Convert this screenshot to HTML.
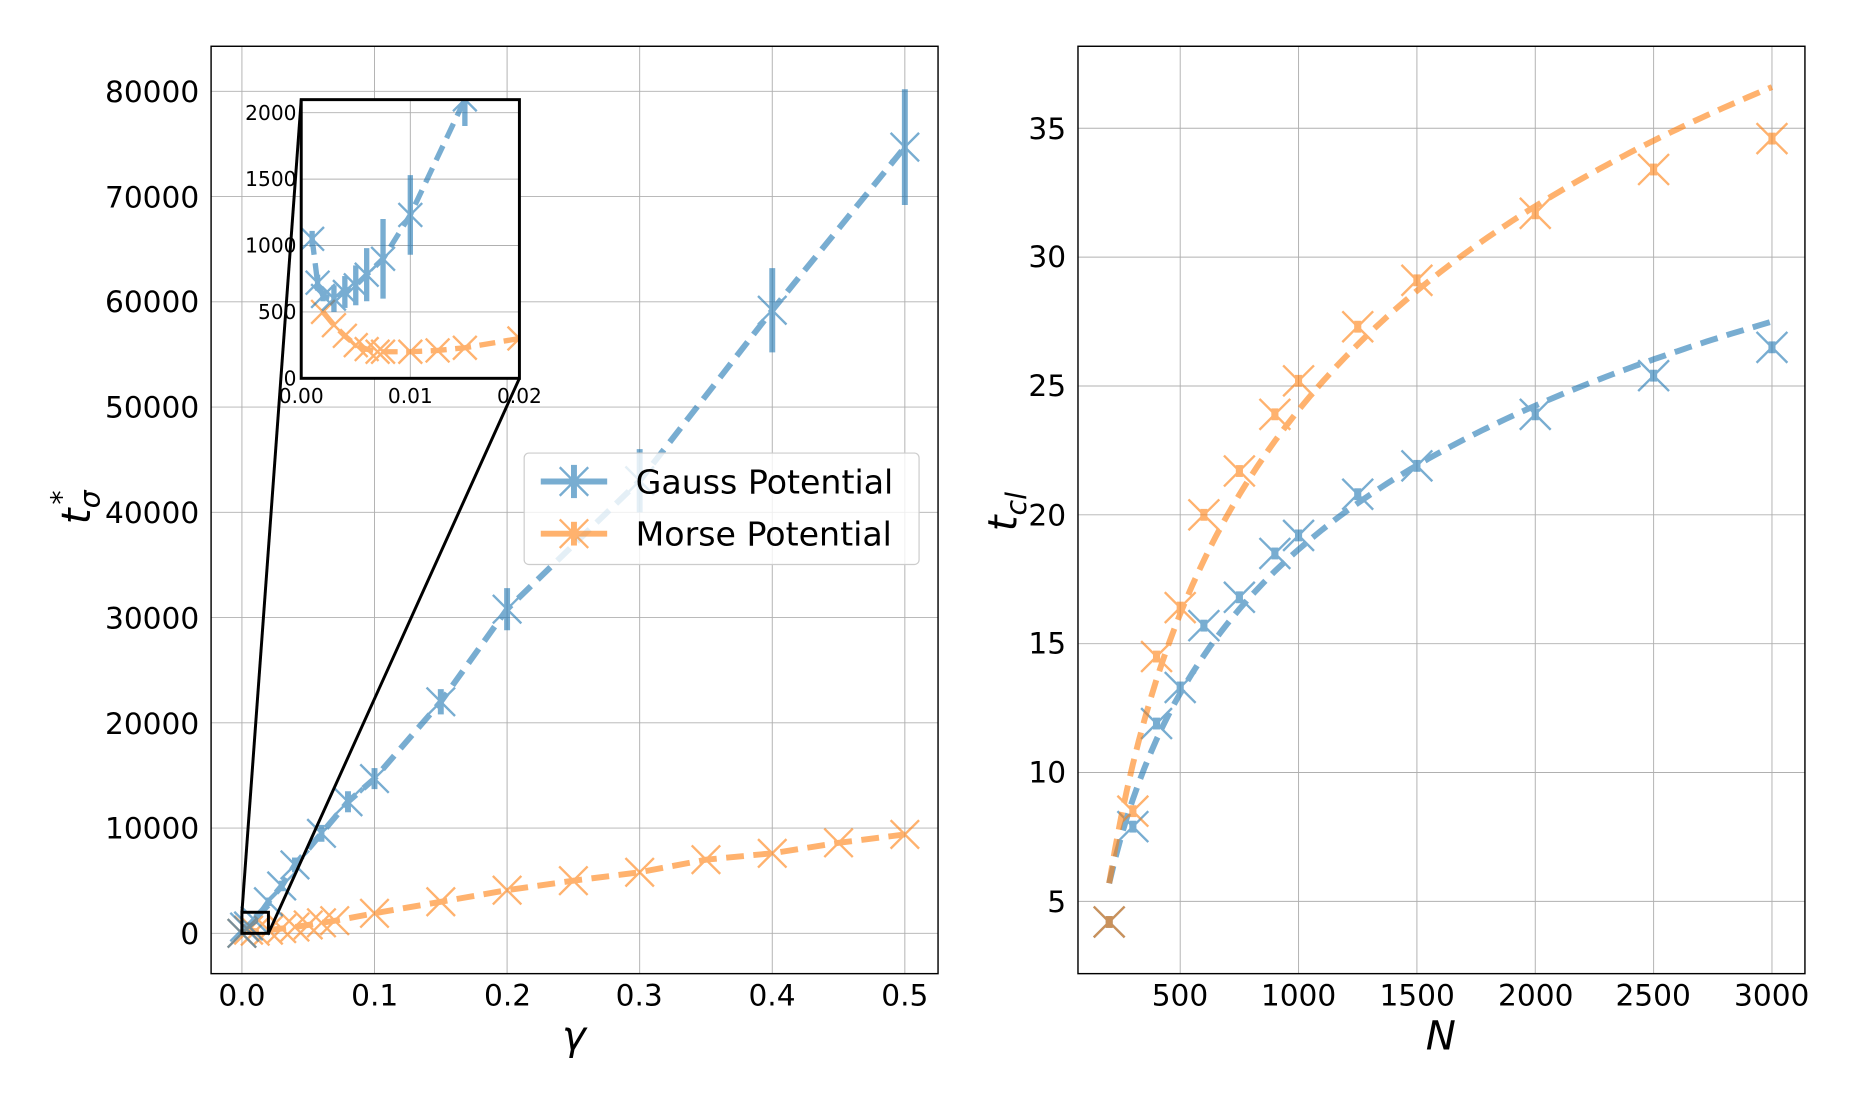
<!DOCTYPE html>
<html><head><meta charset="utf-8"><style>
html,body{margin:0;padding:0;background:#fff;}
svg{display:block;font-family:"DejaVu Sans","Liberation Sans",sans-serif;}
</style></head><body>
<svg id="s" width="1850" height="1097" viewBox="0 0 1560 925" xmlns="http://www.w3.org/2000/svg">
<rect width="1560" height="925" fill="#fff"/>
<g id="grid" stroke="#b0b0b0" stroke-width="0.8"></g>
<g id="data"></g>
<g id="frames" fill="none" stroke="#000" stroke-width="1.2">
<rect x="178" y="39" width="613" height="782"/>
<rect x="909" y="39" width="613" height="782"/>
</g>
<g font-size="25" fill="#000">
<g text-anchor="end">
<text x="168" y="796">0</text><text x="168" y="707">10000</text><text x="168" y="619">20000</text>
<text x="168" y="530">30000</text><text x="168" y="441">40000</text><text x="168" y="352">50000</text>
<text x="168" y="263">60000</text><text x="168" y="175">70000</text><text x="168" y="86">80000</text>
<text x="899" y="769">5</text><text x="899" y="660">10</text><text x="899" y="551">15</text>
<text x="899" y="443">20</text><text x="899" y="334">25</text><text x="899" y="225">30</text><text x="899" y="117">35</text>
</g>
<g text-anchor="middle">
<text x="204" y="848">0.0</text><text x="316" y="848">0.1</text><text x="428" y="848">0.2</text>
<text x="539" y="848">0.3</text><text x="651" y="848">0.4</text><text x="763" y="848">0.5</text>
<text x="995" y="848">500</text><text x="1095" y="848">1000</text><text x="1195" y="848">1500</text>
<text x="1295" y="848">2000</text><text x="1394" y="848">2500</text><text x="1494" y="848">3000</text>
</g>
<text x="484" y="885" font-size="34" font-style="italic" text-anchor="middle">γ</text>
<text x="1215" y="885" font-size="34" font-style="italic" text-anchor="middle">N</text>
<text transform="translate(76,442) rotate(-90)" font-size="34" font-style="italic">t<tspan font-size="24" dy="8">σ</tspan><tspan font-size="24" dy="-24" dx="-12">*</tspan></text>
<text transform="translate(857,448) rotate(-90)" font-size="34" font-style="italic">t<tspan font-size="24" dy="8">cl</tspan></text>
</g>
<g id="inset"></g>
<g id="legend">
<rect x="442" y="382" width="333" height="94" rx="4" fill="#fff" fill-opacity="0.8" stroke="#ccc"/>
<text x="536" y="416" font-size="28">Gauss Potential</text>
<text x="536" y="460" font-size="28">Morse Potential</text>
</g>
</svg>
<script>
var NS="http://www.w3.org/2000/svg";
function el(p,t,a){var e=document.createElementNS(NS,t);for(var k in a)e.setAttribute(k,a[k]);p.appendChild(e);return e;}
var grid=document.getElementById('grid'),data=document.getElementById('data');
var B='#1f77b4',O='#ff7f0e';
function lx(g){return 204+g*1118;} function ly(v){return 787-v*0.008875;}
[0,.1,.2,.3,.4,.5].forEach(function(g){el(grid,'line',{x1:lx(g),x2:lx(g),y1:39,y2:821});});
for(var v=0;v<=80000;v+=10000)el(grid,'line',{x1:178,x2:791,y1:ly(v),y2:ly(v)});
function rx(n){return 895.4+n*0.1996;} function ry(t){return 868.7-t*21.73;}
[500,1000,1500,2000,2500,3000].forEach(function(n){el(grid,'line',{x1:rx(n),x2:rx(n),y1:39,y2:821});});
for(var t=5;t<=35;t+=5)el(grid,'line',{x1:909,x2:1522,y1:ry(t),y2:ry(t)});
function series(g,pts,fx,fy,c,lw,ms,fitpts,sq){
  var d=(fitpts||pts).map(function(p,i){return (i?'L':'M')+fx(p[0]).toFixed(1)+' '+fy(p[1]).toFixed(1);}).join(' ');
  var grp=el(g,'g',{opacity:0.6});
  el(grp,'path',{d:d,fill:'none',stroke:c,'stroke-width':lw,'stroke-dasharray':(lw*3)+' '+(lw*1.6)});
  pts.forEach(function(p){var x=fx(p[0]),y=fy(p[1]);
    if(p[2]){el(grp,'line',{x1:x,x2:x,y1:fy(p[1]-p[2]),y2:fy(p[1]+p[2]),stroke:c,'stroke-width':lw});}
    if(sq){el(grp,'rect',{x:x-3,y:y-5,width:6,height:10,fill:c});}
    el(grp,'path',{d:'M'+(x-ms)+' '+(y-ms)+'L'+(x+ms)+' '+(y+ms)+'M'+(x-ms)+' '+(y+ms)+'L'+(x+ms)+' '+(y-ms),stroke:c,'stroke-width':2});
  });
}
var gL=[[0,0,0],[0.002,600,150],[.005,700,150],[.01,1200,300],[.02,3000,400],[.03,4500,500],[.04,6500,700],[.06,9500,800],[.08,12500,1000],[.1,14700,1000],[.15,22000,1200],[.2,30800,2000],[.3,43000,3000],[.4,59200,4000],[.5,74700,5500]];
var mL=[[0,0],[.005,300],[.01,200],[.02,300],[.03,450],[.04,600],[.05,800],[.06,1000],[.07,1200],[.1,1900],[.15,3000],[.2,4100],[.25,5000],[.3,5800],[.35,7000],[.4,7600],[.45,8600],[.5,9400]];
series(data,mL,lx,ly,O,5,12);
series(data,gL,lx,ly,B,5,12);
var gR=[[200,4.2],[300,7.9],[400,11.9],[500,13.3],[600,15.7],[750,16.8],[900,18.5],[1000,19.2],[1250,20.8],[1500,21.9],[2000,23.9],[2500,25.4],[3000,26.5]];
var oR=[[200,4.2],[300,8.5],[400,14.5],[500,16.4],[600,20],[750,21.7],[900,23.9],[1000,25.2],[1250,27.3],[1500,29.1],[2000,31.7],[2500,33.4],[3000,34.6]];
var gF=[],oF=[];
for(var n=200;n<=3000;n+=25){var u=Math.log(n/200)/Math.log(15);
 gF.push([n,5.7+21.8*u]);oF.push([n,5.7+30.9*u]);}
series(data,gR,rx,ry,B,5,13,gF,true);
series(data,oR,rx,ry,O,5,13,oF,true);
el(data,'rect',{x:lx(0),y:ly(2000),width:lx(.02)-lx(0),height:ly(0)-ly(2000),fill:'none',stroke:'#000','stroke-width':2.5});
el(data,'line',{x1:lx(0),y1:ly(2000),x2:254,y2:84,stroke:'#000','stroke-width':2.5});
el(data,'line',{x1:lx(.02),y1:ly(0),x2:438,y2:319,stroke:'#000','stroke-width':2.5});
var ins=document.getElementById('inset');
el(ins,'rect',{x:254,y:84,width:184,height:235,fill:'#fff'});
function ix(g){return 254+g*9200;} function iy(v){return 319-v*0.112;}
var ig=el(ins,'g',{stroke:'#b0b0b0','stroke-width':0.8});
[0,.01,.02].forEach(function(g){el(ig,'line',{x1:ix(g),x2:ix(g),y1:84,y2:319});});
[0,500,1000,1500,2000].forEach(function(v){el(ig,'line',{x1:254,x2:438,y1:iy(v),y2:iy(v)});});
var clip=el(ins,'clipPath',{id:'ic'});el(clip,'rect',{x:254,y:84,width:184,height:235});
var ic=el(ins,'g',{'clip-path':'url(#ic)'});
var gI=[[.001,1050,60],[.0015,720,60],[.002,620,40],[.003,600,100],[.004,650,120],[.005,700,150],[.006,780,200],[.0075,900,300],[.01,1230,300],[.015,2100,200]];
var mI=[[.002,500],[.003,400],[.004,320],[.005,250],[.006,220],[.007,200],[.0075,200],[.01,200],[.0125,210],[.015,230],[.02,300]];
series(ic,mI,ix,iy,O,4.5,10);
series(ic,gI,ix,iy,B,4.5,10);
el(ins,'rect',{x:254,y:84,width:184,height:235,fill:'none',stroke:'#000','stroke-width':2.5});
</script>
<div style="position:absolute;left:0;top:0;width:1850px;height:1097px;pointer-events:none">
<svg width="1850" height="1097" viewBox="0 0 1560 925" style="font-family:'DejaVu Sans','Liberation Sans',sans-serif" font-size="17">
<g text-anchor="end"><text x="250" y="325">0</text><text x="250" y="269">500</text><text x="250" y="213">1000</text><text x="250" y="157">1500</text><text x="250" y="101">2000</text></g>
<g text-anchor="middle"><text x="254" y="340">0.00</text><text x="346" y="340">0.01</text><text x="438" y="340">0.02</text></g>
<g opacity="0.6" stroke-width="5">
<line x1="456" y1="406" x2="512" y2="406" stroke="#1f77b4"/><line x1="484" y1="392" x2="484" y2="420" stroke="#1f77b4"/>
<path d="M472 394L496 418M472 418L496 394" stroke="#1f77b4" stroke-width="2"/>
<line x1="456" y1="450" x2="512" y2="450" stroke="#ff7f0e"/><line x1="484" y1="440" x2="484" y2="460" stroke="#ff7f0e"/>
<path d="M472 438L496 462M472 462L496 438" stroke="#ff7f0e" stroke-width="2"/>
</g>
</svg></div>
</body></html>
